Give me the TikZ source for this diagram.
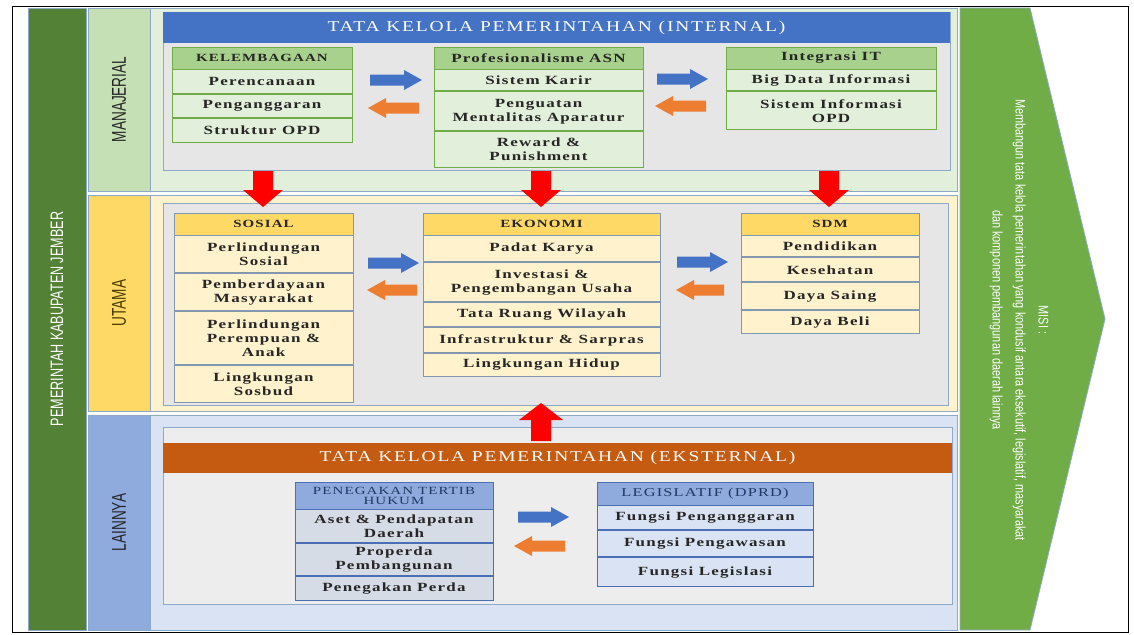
\documentclass[tikz,border=0pt]{standalone}
\usepackage{fontspec}
\usepackage{tikz}
\usetikzlibrary{positioning}
\setmainfont{Liberation Serif}[FakeStretch=1.36, LetterSpace=10]
\newfontfamily\bannerfont{Liberation Serif}[FakeStretch=1.3, LetterSpace=12]
\newfontfamily\narrowfont{Liberation Sans}[FakeStretch=0.70]
\newfontfamily\labelfont{Liberation Sans}[FakeStretch=0.68]
\newfontfamily\misifont{Liberation Sans}[FakeStretch=0.78]
\definecolor{stripGreen}{HTML}{538135}
\definecolor{misiGreen}{HTML}{70AD47}
\definecolor{manLabel}{HTML}{C5E0B4}
\definecolor{manBg}{HTML}{E2EFDA}
\definecolor{utaLabel}{HTML}{FFD966}
\definecolor{utaBg}{HTML}{FFF2CC}
\definecolor{laiLabel}{HTML}{8FAADC}
\definecolor{laiBg}{HTML}{DAE3F3}
\definecolor{panelGray}{HTML}{E7E6E6}
\definecolor{panelLight}{HTML}{EDEDED}
\definecolor{secLine}{HTML}{8EA9C8}
\definecolor{intBlue}{HTML}{4472C4}
\definecolor{extOrange}{HTML}{C55A11}
\definecolor{hdGreen}{HTML}{A9D18E}
\definecolor{boxGreen}{HTML}{70AD47}
\definecolor{boxSlate}{HTML}{8497B0}
\definecolor{boxNavy}{HTML}{4A6FB5}
\definecolor{rowBlue}{HTML}{D6DCE5}
\definecolor{txtDark}{HTML}{262626}
\definecolor{txtNavy}{HTML}{203864}
\definecolor{txtOlive}{HTML}{4A3C00}
\definecolor{arrBlue}{HTML}{4472C4}
\definecolor{arrOrange}{HTML}{ED7D31}
\definecolor{arrRed}{HTML}{FF0000}

% block arrows: colour, left x, right x, axis y
\newcommand{\rightblock}[4]{\fill[#1] (#2,#4-5.5) -- (#3-18,#4-5.5) -- (#3-18,#4-10) -- (#3,#4) -- (#3-18,#4+10) -- (#3-18,#4+5.5) -- (#2,#4+5.5) -- cycle;}
\newcommand{\leftblock}[4]{\fill[#1] (#3,#4-5.5) -- (#2+18,#4-5.5) -- (#2+18,#4-10) -- (#2,#4) -- (#2+18,#4+10) -- (#2+18,#4+5.5) -- (#3,#4+5.5) -- cycle;}
% red arrows: x, tail y, tip y
\newcommand{\downblock}[3]{\fill[arrRed] (#1-10,#2) -- (#1+10,#2) -- (#1+10,#3-17) -- (#1+20,#3-17) -- (#1,#3) -- (#1-20,#3-17) -- (#1-10,#3-17) -- cycle;}
\newcommand{\upblock}[3]{\fill[arrRed] (#1-10,#2) -- (#1+10,#2) -- (#1+10,#3+17) -- (#1+22,#3+17) -- (#1,#3) -- (#1-22,#3+17) -- (#1-10,#3+17) -- cycle;}

\begin{document}
\begin{tikzpicture}[x=1pt, y=-1pt,
    cell/.style={draw, line width=0.9pt, inner sep=1pt, align=center, text=txtDark,
        font=\fontsize{12.5}{14}\selectfont\bfseries},
    caps/.style={font=\fontsize{11}{12}\selectfont\bfseries},
    greenhd/.style={cell, draw=boxGreen, fill=hdGreen},
    greenrow/.style={cell, draw=boxGreen, fill=manBg},
    yellowhd/.style={cell, caps, draw=boxSlate, fill=utaLabel},
    yellowrow/.style={cell, draw=boxSlate, fill=utaBg},
    bluehd/.style={cell, draw=boxNavy, fill=laiLabel, text=txtNavy,
        font=\fontsize{12}{10}\selectfont},
    bluerow/.style={cell, draw=boxNavy, fill=rowBlue},
    banner/.style={inner sep=0pt, text=white, font=\bannerfont\fontsize{15}{16}\selectfont},
    sidebox/.style={draw=secLine, line width=0.8pt, rotate=90, inner sep=0pt,
        font=\labelfont\fontsize{20}{21}\selectfont},
    section/.style={draw=secLine, line width=0.8pt},
]
\useasboundingbox (0,0) rectangle (1134,634);
\draw[line width=0.8pt] (12,6) rectangle (1128,632);

% left column
\node[sidebox, fill=stripGreen, text=white, minimum width=622pt, minimum height=58pt,
    font=\narrowfont\fontsize{18}{19}\selectfont] (pemkab) at (57,319) {PEMERINTAH KABUPATEN JEMBER};
\node[sidebox, fill=manLabel, text=txtDark, minimum width=183pt, minimum height=62pt] (manaj) at (119,99.5) {MANAJERIAL};
\node[sidebox, fill=utaLabel, text=txtOlive, minimum width=216pt, minimum height=62pt] (utama) at (119,303) {UTAMA};
\node[sidebox, fill=laiLabel, text=txtDark, minimum width=215pt, minimum height=62pt] (lainnya) at (119,522.5) {LAINNYA};

% sections
\draw[section, fill=manBg] (150,8) rectangle (957,191);
\draw[section, fill=utaBg] (150,195) rectangle (957,411);
\draw[section, fill=laiBg] (150,415) rectangle (957,630);

% misi
\draw[draw=secLine, line width=0.8pt, fill=misiGreen] (960,8) -- (1030,8) -- (1105,319) -- (1030,630) -- (960,630) -- cycle;
\node[rotate=-90, align=center, text=white, font=\misifont\fontsize{14}{23}\selectfont] (misi) at (1019,320)
    {MISI :\\Membangun tata kelola pemerintahan yang kondusif antara eksekutif, legislatif, masyarakat\\dan komponen pembangunan daerah lainnya};

% manajerial
\draw[section, fill=panelGray] (163,12) rectangle (950,170);
\node[banner, fill=intBlue, minimum width=787pt, minimum height=31pt] (internal) at (556.5,27.5) {TATA KELOLA PEMERINTAHAN (INTERNAL)};

\begin{scope}[nodes={minimum width=180pt}]
\node[greenhd, caps, minimum height=22pt] (kel) at (262,58) {KELEMBAGAAN};
\node[greenrow, minimum height=23.5pt, below=0pt of kel] (kel1) {Perencanaan};
\node[greenrow, minimum height=23.5pt, below=0pt of kel1] (kel2) {Penganggaran};
\node[greenrow, minimum height=23.5pt, below=0pt of kel2] (kel3) {Struktur OPD};
\end{scope}

\begin{scope}[nodes={minimum width=209pt}]
\node[greenhd, minimum height=22pt] (pro) at (538.5,58) {Profesionalisme ASN};
\node[greenrow, minimum height=21pt, below=0pt of pro] (pro1) {Sistem Karir};
\node[greenrow, minimum height=39pt, below=0pt of pro1] (pro2) {Penguatan\\Mentalitas Aparatur};
\node[greenrow, minimum height=36pt, below=0pt of pro2] (pro3) {Reward \&\\Punishment};
\end{scope}

\begin{scope}[nodes={minimum width=210pt}]
\node[greenhd, minimum height=22pt] (it) at (831,58) {Integrasi IT};
\node[greenrow, minimum height=21pt, below=0pt of it] (it1) {Big Data Informasi};
\node[greenrow, minimum height=38pt, below=0pt of it1] (it2) {Sistem Informasi\\OPD};
\end{scope}

\rightblock{arrBlue}{370}{422}{80}
\leftblock{arrOrange}{368}{419}{108}
\rightblock{arrBlue}{657}{708}{79}
\leftblock{arrOrange}{655}{706}{106}

% utama
\draw[section, fill=panelGray] (163,203) rectangle (948,405);

\begin{scope}[nodes={minimum width=179pt}]
\node[yellowhd, minimum height=22pt] (sos) at (263.5,224) {SOSIAL};
\node[yellowrow, minimum height=37pt, below=0pt of sos] (sos1) {Perlindungan\\Sosial};
\node[yellowrow, minimum height=37pt, below=0pt of sos1] (sos2) {Pemberdayaan\\Masyarakat};
\node[yellowrow, minimum height=53pt, below=0pt of sos2] (sos3) {Perlindungan\\Perempuan \&\\Anak};
\node[yellowrow, minimum height=37pt, below=0pt of sos3] (sos4) {Lingkungan\\Sosbud};
\end{scope}

\begin{scope}[nodes={minimum width=237pt}]
\node[yellowhd, minimum height=22pt] (eko) at (541.5,224) {EKONOMI};
\node[yellowrow, minimum height=26pt, below=0pt of eko] (eko1) {Padat Karya};
\node[yellowrow, minimum height=39pt, below=0pt of eko1] (eko2) {Investasi \&\\Pengembangan Usaha};
\node[yellowrow, minimum height=24pt, below=0pt of eko2] (eko3) {Tata Ruang Wilayah};
\node[yellowrow, minimum height=25pt, below=0pt of eko3] (eko4) {Infrastruktur \& Sarpras};
\node[yellowrow, minimum height=23pt, below=0pt of eko4] (eko5) {Lingkungan Hidup};
\end{scope}

\begin{scope}[nodes={minimum width=178pt}]
\node[yellowhd, minimum height=22pt] (sdm) at (830,224) {SDM};
\node[yellowrow, minimum height=21pt, below=0pt of sdm] (sdm1) {Pendidikan};
\node[yellowrow, minimum height=24pt, below=0pt of sdm1] (sdm2) {Kesehatan};
\node[yellowrow, minimum height=27pt, below=0pt of sdm2] (sdm3) {Daya Saing};
\node[yellowrow, minimum height=23pt, below=0pt of sdm3] (sdm4) {Daya Beli};
\end{scope}

\rightblock{arrBlue}{368}{419}{263}
\leftblock{arrOrange}{367}{417}{290}
\rightblock{arrBlue}{677}{728}{262}
\leftblock{arrOrange}{676}{724}{290}

% lainnya
\draw[section, fill=panelLight] (163,427) rectangle (952,604);
\node[banner, fill=extOrange, minimum width=789pt, minimum height=30pt] (eksternal) at (557.5,458) {TATA KELOLA PEMERINTAHAN (EKSTERNAL)};

\begin{scope}[nodes={minimum width=198pt}]
\node[bluehd, minimum height=27pt, font=\fontsize{11}{10}\selectfont] (hukum) at (394,495.5) {PENEGAKAN TERTIB\\HUKUM};
\node[bluerow, minimum height=33pt, below=0pt of hukum] (hukum1) {Aset \& Pendapatan\\Daerah};
\node[bluerow, minimum height=32pt, below=0pt of hukum1] (hukum2) {Properda\\Pembangunan};
\node[bluerow, minimum height=24pt, below=0pt of hukum2] (hukum3) {Penegakan Perda};
\end{scope}

\begin{scope}[nodes={minimum width=216pt}]
\node[bluehd, minimum height=23pt] (dprd) at (705,493.5) {LEGISLATIF (DPRD)};
\node[bluerow, fill=laiBg, minimum height=24pt, below=0pt of dprd] (dprd1) {Fungsi Penganggaran};
\node[bluerow, fill=laiBg, minimum height=26pt, below=0pt of dprd1] (dprd2) {Fungsi Pengawasan};
\node[bluerow, fill=laiBg, minimum height=29pt, below=0pt of dprd2] (dprd3) {Fungsi Legislasi};
\end{scope}

\rightblock{arrBlue}{518}{569}{517}
\leftblock{arrOrange}{514}{565}{546}

% red arrows between sections
\downblock{263}{171}{207}
\downblock{541}{171}{207}
\downblock{829}{171}{207}
\upblock{541}{441}{403}
\end{tikzpicture}
\end{document}
